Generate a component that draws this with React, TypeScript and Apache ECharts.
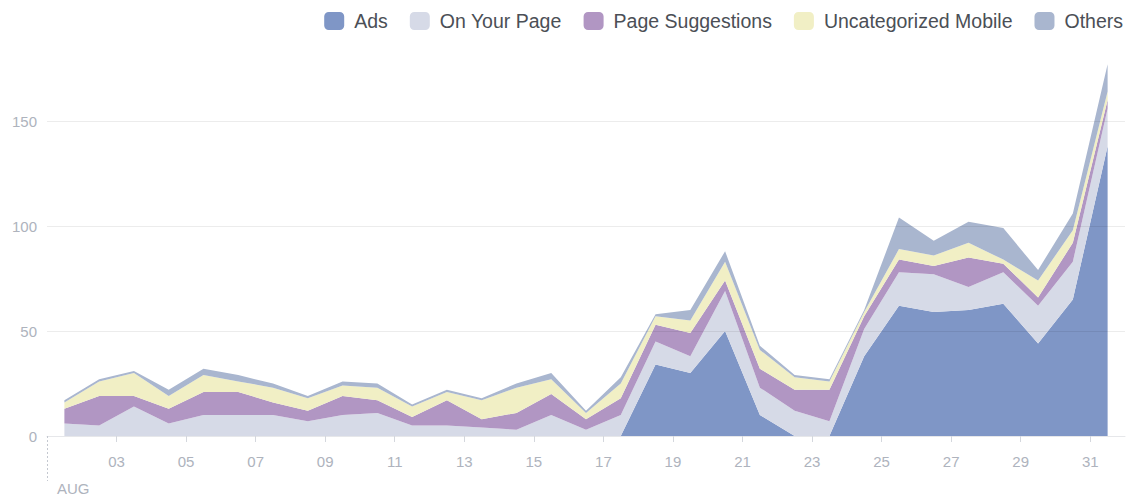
import React, { useEffect, useRef } from "react";
import * as echarts from "echarts";

// Day of August (1..31)
const days = ["01", "02", "03", "04", "05", "06", "07", "08", "09", "10", "11", "12", "13", "14", "15", "16", "17", "18", "19", "20", "21", "22", "23", "24", "25", "26", "27", "28", "29", "30", "31"];

const ads = [0, 0, 0, 0, 0, 0, 0, 0, 0, 0, 0, 0, 0, 0, 0, 0, 0, 34, 30, 50, 10, 0, 0, 38, 62, 59, 60, 63, 44, 65, 138];
const onYourPage = [6, 5, 14, 6, 10, 10, 10, 7, 10, 11, 5, 5, 4, 3, 10, 3, 10, 11, 8, 19, 13, 12, 7, 13, 16, 18, 11, 15, 18, 18, 18];
const pageSuggestions = [7, 14, 5, 7, 11, 11, 6, 5, 9, 6, 4, 12, 4, 8, 10, 5, 8, 8, 11, 5, 9, 10, 15, 6, 6, 4, 14, 4, 4, 9, 4];
const uncategorizedMobile = [3, 7, 11, 6, 8, 5, 7, 6, 5, 6, 5, 4, 9, 12, 7, 3, 7, 4, 6, 9, 9, 6, 4, 2, 5, 5, 7, 2, 8, 6, 4];
const others = [1, 1, 1, 3, 3, 3, 2, 1, 2, 2, 1, 1, 1, 2, 3, 1, 3, 1, 5, 5, 2, 1, 1, 1, 15, 7, 10, 15, 5, 8, 13];

// Tick labels on the x axis (days), placed at the start of each day
const tickDays = [3, 5, 7, 9, 11, 13, 15, 17, 19, 21, 23, 25, 27, 29, 31];
const monthLabel = "AUG";
const yTicks = [0, 50, 100, 150];

const seriesDefs = [
  { name: "Ads", data: ads, color: "#7f96c6" },
  { name: "On Your Page", data: onYourPage, color: "#d6dae7" },
  { name: "Page Suggestions", data: pageSuggestions, color: "#b196c3" },
  { name: "Uncategorized Mobile", data: uncategorizedMobile, color: "#f1efc5" },
  { name: "Others", data: others, color: "#a9b6cf" },
];

const FONT = "'Liberation Sans', Arial, Helvetica, sans-serif";
const AXIS_GRAY = "#aeb3bd";

export default function App() {
  const ref = useRef<HTMLDivElement>(null);

  useEffect(() => {
    if (!ref.current) return;
    const chart = echarts.init(ref.current, null, { renderer: "svg" });
    const pos = (d: number) => d - 1; // offset of the start of day d
    const option: any = {
      animation: false,
      backgroundColor: "#ffffff",
      textStyle: { fontFamily: FONT },
      legend: {
        right: 9,
        top: 11,
        padding: 0,
        itemWidth: 20,
        itemHeight: 18,
        itemGap: 22,
        icon: "roundRect",
        itemStyle: { borderRadius: 3 },
        textStyle: { fontSize: 19.5, color: "#4b4f56", fontFamily: FONT, padding: [0, 0, 0, 5] },
        data: seriesDefs.map((s) => s.name),
      },
      grid: { left: 47, right: 7, top: 58, bottom: 64, containLabel: false },
      xAxis: [
        {
          type: "category",
          data: days,
          boundaryGap: true,
          axisLine: { show: true, lineStyle: { color: "#e6e7ea", width: 1 } },
          axisTick: { show: false },
          axisLabel: { show: false },
          splitLine: { show: false },
        },
        {
          type: "value",
          min: 0,
          max: days.length,
          position: "bottom",
          axisLine: { show: false },
          axisTick: {
            show: true,
            length: 6,
            customValues: tickDays.map(pos),
            lineStyle: { color: "#d4d7dd" },
          },
          axisLabel: {
            customValues: tickDays.map(pos),
            formatter: (v: number) => days[Math.round(v)],
            color: AXIS_GRAY,
            fontSize: 15,
            margin: 18,
            fontFamily: FONT,
          },
          splitLine: { show: false },
        },
        {
          type: "value",
          min: 0,
          max: days.length,
          position: "bottom",
          axisLine: { show: false },
          axisTick: {
            show: true,
            length: 45,
            customValues: [0],
            lineStyle: { color: "#c4c8d0", type: [2, 2] },
          },
          axisLabel: {
            customValues: [0],
            formatter: () => monthLabel,
            align: "left",
            padding: [0, 0, 0, 10],
            color: AXIS_GRAY,
            fontSize: 15,
            margin: 45,
            fontFamily: FONT,
          },
          splitLine: { show: false },
        },
      ],
      yAxis: {
        type: "value",
        min: 0,
        max: 180,
        interval: 50,
        z: 5,
        axisLine: { show: false },
        axisTick: { show: false },
        axisLabel: {
          customValues: yTicks,
          color: AXIS_GRAY,
          fontSize: 15,
          margin: 10,
          fontFamily: FONT,
        },
        splitLine: {
          show: true,
          showMaxLine: false,
          showMinLine: false,
          lineStyle: { color: "rgba(0,0,0,0.075)", width: 1 },
        },
      },
      series: seriesDefs.map((s) => ({
        name: s.name,
        type: "line",
        stack: "total",
        xAxisIndex: 0,
        showSymbol: false,
        symbol: "none",
        lineStyle: { width: 0, color: s.color },
        itemStyle: { color: s.color },
        areaStyle: { color: s.color, opacity: 1 },
        emphasis: { disabled: true },
        data: s.data,
      })),
    };
    chart.setOption(option);
    return () => chart.dispose();
  }, []);

  return <div ref={ref} style={{ width: 1132, height: 500, position: "absolute", left: 0, top: 0 }} />;
}
